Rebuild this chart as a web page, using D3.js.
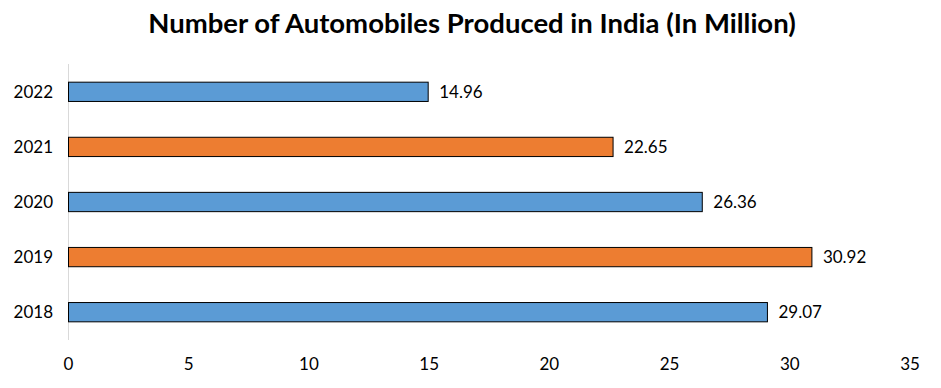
<!DOCTYPE html>
<html>
<head>
<meta charset="utf-8">
<script src="https://cdn.jsdelivr.net/npm/d3@7"></script>
<style>
  body { margin: 0; background: #fff; }
  text { font-family: Lato, "Open Sans", sans-serif; }
</style>
</head>
<body>
<div id="chart"></div>
<script>
var years = ['2022', '2021', '2020', '2019', '2018'];
var values = [14.96, 22.65, 26.36, 30.92, 29.07];
var colors = ['#5B9BD5', '#ED7D31', '#5B9BD5', '#ED7D31', '#5B9BD5'];
var xTicks = [0, 5, 10, 15, 20, 25, 30, 35];

var chartWidth = 941;
var chartHeight = 388;
var svg = d3.select('#chart')
    .append('svg')
    .attr('width', chartWidth)
    .attr('height', chartHeight);

// Scales
var scaleX = d3.scaleLinear()
    .domain([0, 35])
    .range([68.5, 910]);

var scaleY = d3.scaleBand()
    .domain(years)
    .range([64, 340])
    .paddingInner(0.65)
    .paddingOuter(0.33);

// Title
svg.append('text')
    .text('Number of Automobiles Produced in India (In Million)')
    .attr('x', 472)
    .attr('y', 33)
    .attr('text-anchor', 'middle')
    .attr('font-size', 27.5)
    .attr('font-weight', 'bold')
    .attr('fill', '#000');

// Vertical axis line
svg.append('line')
    .attr('x1', scaleX(0))
    .attr('x2', scaleX(0))
    .attr('y1', 64)
    .attr('y2', 340)
    .attr('stroke', '#d9d9d9')
    .attr('stroke-width', 1);

// Bars
svg.selectAll('rect.bar')
    .data(values)
    .enter()
    .append('rect')
    .attr('class', 'bar')
    .attr('x', scaleX(0))
    .attr('y', function(d, i) { return scaleY(years[i]); })
    .attr('width', function(d) { return scaleX(d) - scaleX(0); })
    .attr('height', scaleY.bandwidth())
    .attr('fill', function(d, i) { return colors[i]; })
    .attr('stroke', '#000')
    .attr('stroke-width', 1);

// Value labels
svg.selectAll('text.value')
    .data(values)
    .enter()
    .append('text')
    .attr('class', 'value')
    .text(function(d) { return d.toFixed(2); })
    .attr('x', function(d) { return scaleX(d) + 11; })
    .attr('y', function(d, i) { return scaleY(years[i]) + scaleY.bandwidth() / 2 + 6; })
    .attr('font-size', 17)
    .attr('fill', '#000');

// Category labels
svg.selectAll('text.year')
    .data(years)
    .enter()
    .append('text')
    .attr('class', 'year')
    .text(function(d) { return d; })
    .attr('x', 53)
    .attr('y', function(d) { return scaleY(d) + scaleY.bandwidth() / 2 + 6; })
    .attr('text-anchor', 'end')
    .attr('font-size', 17)
    .attr('fill', '#000');

// X tick labels
svg.selectAll('text.tick')
    .data(xTicks)
    .enter()
    .append('text')
    .attr('class', 'tick')
    .text(function(d) { return d; })
    .attr('x', function(d) { return scaleX(d); })
    .attr('y', 370)
    .attr('text-anchor', 'middle')
    .attr('font-size', 17)
    .attr('fill', '#000');
</script>
</body>
</html>
